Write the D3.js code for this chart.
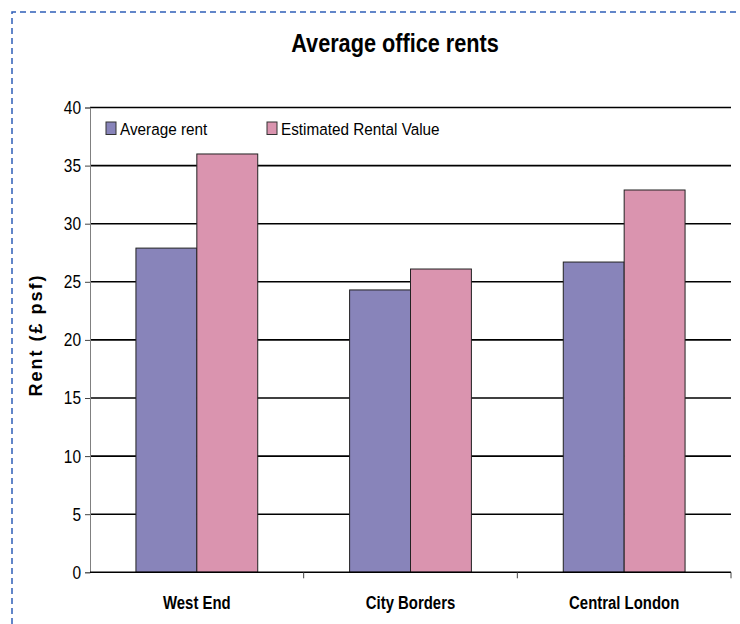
<!DOCTYPE html>
<meta charset="utf-8" />
<style>
  html,
  body {
    margin: 0;
    padding: 0;
    background: #fff;
  }
  #chart {
    width: 740px;
    height: 624px;
    font-family: 'Liberation Sans', Arial, sans-serif;
  }
</style>
<script src="https://d3js.org/d3.v7.min.js"></script>

<div id="chart"></div>

<script>
  // data
  const categories = ['West End', 'City Borders', 'Central London'];
  const seriesNames = ['Average rent', 'Estimated Rental Value'];
  const averageRent = [27.9, 24.3, 26.7];
  const estimatedRentalValue = [36.0, 26.1, 32.9];
  const yTicks = [0, 5, 10, 15, 20, 25, 30, 35, 40];
  const colors = ['#8884ba', '#da94af'];

  const width = 740;
  const height = 624;
  const plot = { left: 90, right: 731, top: 107.5, bottom: 572.3 };

  const svg = d3
    .select('#chart')
    .append('svg')
    .attr('width', width)
    .attr('height', height);

  // the reference uses a narrow font, so squeeze the text horizontally
  function narrowText(parent, x, y, sx, txt) {
    return parent
      .append('g')
      .attr('transform', 'translate(' + x + ',' + y + ') scale(' + sx + ',1)')
      .append('text')
      .text(txt);
  }

  // dashed frame around the chart
  svg
    .append('path')
    .attr('d', 'M12,' + height + ' V12 H' + width)
    .attr('fill', 'none')
    .attr('stroke', '#2f5fb8')
    .attr('stroke-width', 1.5)
    .attr('stroke-dasharray', '6,4');

  // title
  narrowText(svg, 395, 52, 0.834, 'Average office rents')
    .attr('text-anchor', 'middle')
    .style('font-size', '26px')
    .style('font-weight', 'bold');

  const x0 = d3
    .scaleBand()
    .domain(categories)
    .range([plot.left, plot.right])
    .paddingInner(0.43)
    .paddingOuter(0.215);

  const x1 = d3
    .scaleBand()
    .domain(seriesNames)
    .range([0, x0.bandwidth()]);

  const y = d3
    .scaleLinear()
    .domain([0, 40])
    .range([plot.bottom, plot.top]);

  // gridlines
  svg
    .append('g')
    .selectAll('line')
    .data(yTicks.filter((d) => d > 0))
    .enter()
    .append('line')
    .attr('x1', plot.left)
    .attr('x2', plot.right)
    .attr('y1', (d) => y(d))
    .attr('y2', (d) => y(d))
    .attr('stroke', '#000')
    .attr('stroke-width', 1.6);

  // y axis (labels drawn separately so they can be narrowed)
  const yAxis = svg
    .append('g')
    .attr('transform', 'translate(' + plot.left + ',0)')
    .call(d3.axisLeft(y).tickValues(yTicks).tickSize(5).tickFormat(''));
  yAxis.select('.domain').attr('stroke', '#808080');
  yAxis.selectAll('.tick line').attr('stroke', '#444');

  const yLabels = svg.append('g');
  yTicks.forEach((t) => {
    narrowText(yLabels, plot.left - 9, y(t), 0.86, t)
      .attr('text-anchor', 'end')
      .attr('dy', '0.36em')
      .style('font-size', '18px');
  });

  // bars
  const rows = categories.map((c, i) => ({
    category: c,
    values: [averageRent[i], estimatedRentalValue[i]],
  }));

  const groups = svg
    .append('g')
    .selectAll('g')
    .data(rows)
    .enter()
    .append('g')
    .attr('transform', (d) => 'translate(' + x0(d.category) + ',0)');

  groups
    .selectAll('rect')
    .data((d) =>
      d.values.map((v, j) => ({ name: seriesNames[j], value: v, j: j })),
    )
    .enter()
    .append('rect')
    .attr('x', (d) => x1(d.name))
    .attr('y', (d) => y(d.value))
    .attr('width', x1.bandwidth())
    .attr('height', (d) => y(0) - y(d.value))
    .attr('fill', (d) => colors[d.j])
    .attr('stroke', '#222')
    .attr('stroke-width', 1);

  // x axis: line at zero, ticks between categories
  const step = x0.step();
  const boundaries = d3
    .range(categories.length + 1)
    .map((i) => plot.left + i * step);
  svg
    .append('line')
    .attr('x1', plot.left)
    .attr('x2', plot.right)
    .attr('y1', y(0))
    .attr('y2', y(0))
    .attr('stroke', '#000')
    .attr('stroke-width', 1.6);
  svg
    .append('g')
    .selectAll('line')
    .data(boundaries.slice(1))
    .enter()
    .append('line')
    .attr('x1', (d) => d)
    .attr('x2', (d) => d)
    .attr('y1', y(0))
    .attr('y2', y(0) + 6)
    .attr('stroke', '#444');

  const xLabels = svg.append('g');
  categories.forEach((c) => {
    narrowText(xLabels, x0(c) + x0.bandwidth() / 2, 609, 0.785, c)
      .attr('text-anchor', 'middle')
      .style('font-size', '19px')
      .style('font-weight', 'bold');
  });

  // y axis title
  svg
    .append('text')
    .attr('transform', 'translate(42,335) rotate(-90)')
    .attr('text-anchor', 'middle')
    .style('font-size', '18px')
    .style('font-weight', 'bold')
    .style('letter-spacing', '2px')
    .text('Rent (£ psf)');

  // legend
  const legend = svg
    .append('g')
    .selectAll('g')
    .data(seriesNames)
    .enter()
    .append('g')
    .attr('transform', (d, i) => 'translate(' + [106, 267][i] + ',122)');
  legend
    .append('rect')
    .attr('width', 10)
    .attr('height', 12.5)
    .attr('fill', (d, i) => colors[i])
    .attr('stroke', '#333');
  legend.each(function (d) {
    narrowText(d3.select(this), 14, 13, 0.9, d).style('font-size', '17px');
  });
</script>
